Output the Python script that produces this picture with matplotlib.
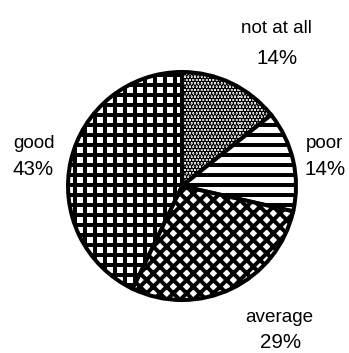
import matplotlib
matplotlib.use("Agg")
import matplotlib.pyplot as plt

categories = ["not at all", "poor", "average", "good"]
values = [1, 1, 2, 3]
pct_labels = ["14%", "14%", "29%", "43%"]
hatches = ["......", "--", "xxx", "++"]

plt.rcParams["hatch.linewidth"] = 2.4
plt.rcParams["font.family"] = ["Liberation Sans", "DejaVu Sans"]

DPI = 120
W, H = 349, 353
fig = plt.figure(figsize=(W / DPI, H / DPI), dpi=DPI)
ax = fig.add_axes([0, 0, 1, 1])

cx, cy, r = 182, H - 186, 114
wedges, _ = ax.pie(values, startangle=90, counterclock=False, center=(cx, cy),
                   radius=r, colors=["white"] * 4, frame=True,
                   wedgeprops=dict(edgecolor="black", linewidth=2.4))
for w, h in zip(wedges, hatches):
    w.set_hatch(h)
ax.set_xlim(0, W)
ax.set_ylim(0, H)
ax.set_aspect("equal")
ax.axis("off")

name_pos = [(276, 33), (324, 148), (279, 322), (34, 148)]
pct_pos = [(277, 64), (325, 175), (281, 348), (33, 175)]
for (x, y), c in zip(name_pos, categories):
    ax.text(x, H - y, c, ha="center", va="baseline", fontsize=11.3, color="black")
for (x, y), p in zip(pct_pos, pct_labels):
    ax.text(x, H - y, p, ha="center", va="baseline", fontsize=12.3, color="black")

fig.savefig("out.png", dpi=DPI)
